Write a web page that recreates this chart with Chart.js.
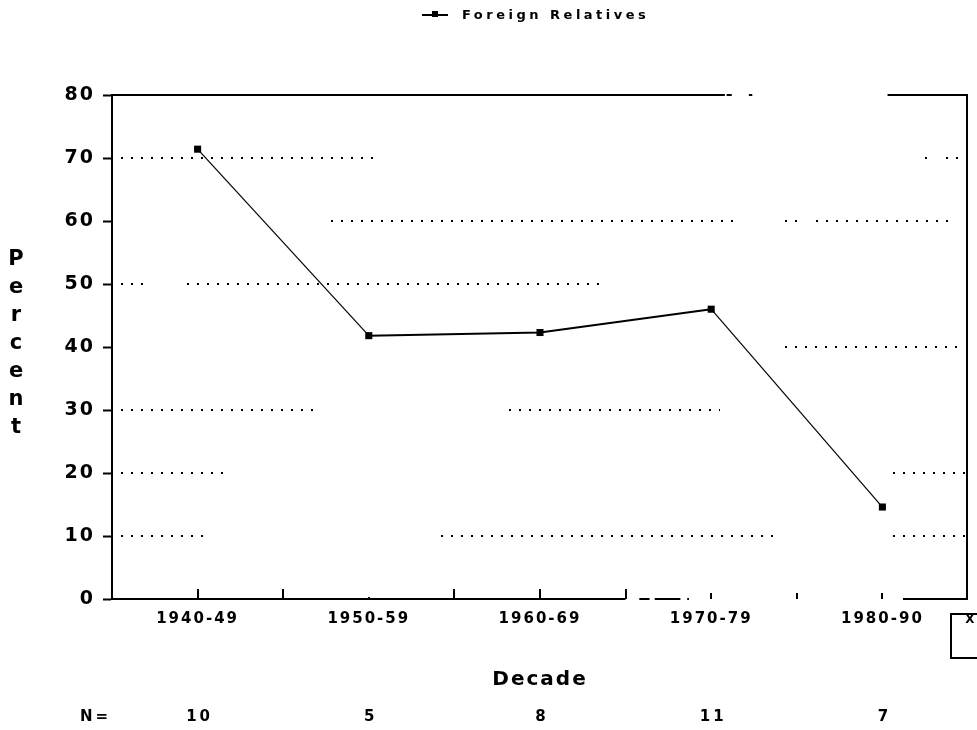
<!DOCTYPE html>
<html>
<head>
<meta charset="utf-8">
<title>Foreign Relatives by Decade</title>
<script src="https://cdn.jsdelivr.net/npm/chart.js@4.4.1/dist/chart.umd.min.js"></script>
<style>
  html, body { margin: 0; padding: 0; background: #ffffff; }
  #wrap { width: 977px; height: 730px; }
</style>
</head>
<body>
<div id="wrap"><canvas id="chart" width="977" height="730"></canvas></div>
<script>
// Decades on the x axis
const decades = ['1940-49', '1950-59', '1960-69', '1970-79', '1980-90'];
// Percent with foreign relatives, per decade
const foreignRelatives = [71.4, 41.8, 42.3, 46.0, 14.6];
// Sample size per decade
const sampleSizes = [10, 5, 8, 11, 7];
// Value axis ticks
const percentTicks = [0, 10, 20, 30, 40, 50, 60, 70, 80];

const seriesLabel = 'Foreign Relatives';
const yTitle = 'Percent';
const xTitle = 'Decade';
const nLabel = 'N=';

// Broken dotted grid runs, in x-axis units (category index)
const gridRuns = {
  70: [[-0.45, 1.06], [4.25, 4.27], [4.37, 4.46]],
  60: [[0.78, 3.14], [3.43, 3.52], [3.61, 4.41]],
  50: [[-0.45, -0.29], [-0.06, 2.35]],
  40: [[3.43, 4.47]],
  30: [[-0.45, 0.70], [1.82, 3.05]],
  20: [[-0.45, 0.16], [4.06, 4.48]],
  10: [[-0.45, 0.04], [1.42, 3.40], [4.06, 4.48]]
};
// Frame runs along the top and bottom edges, in x-axis units
const topRuns = [[-0.5, 3.08], [3.09, 3.12], [3.22, 3.24], [4.03, 4.5]];
const bottomRuns = [[-0.5, 2.50], [2.58, 2.64], [2.67, 2.82], [2.86, 2.87], [4.12, 4.5]];
// Inward tick marks on the x axis (centres and half-steps), lengths in px
const xTickMarks = [[0, 10], [0.5, 10], [1, 2], [1.5, 10], [2, 10], [2.5, 10], [3, 6], [3.5, 6], [4, 6]];

const FONT = '"DejaVu Sans", "Liberation Sans", sans-serif';

const decorPlugin = {
  id: 'decor',
  beforeDraw(chart) {
    chart.ctx.letterSpacing = '2px';
  },
  beforeDatasetsDraw(chart) {
    const ctx = chart.ctx;
    const x = chart.scales.x, y = chart.scales.y;
    const ux = u => x.getPixelForDecimal((u + 0.5) / decades.length);
    ctx.save();
    ctx.letterSpacing = '0px';
    // dotted grid
    ctx.strokeStyle = '#000';
    ctx.lineWidth = 2;
    ctx.setLineDash([2, 8]);
    Object.keys(gridRuns).forEach(v => {
      const py = Math.round(y.getPixelForValue(+v));
      gridRuns[v].forEach(([a, b]) => {
        ctx.beginPath();
        ctx.moveTo(Math.round(ux(a)), py);
        ctx.lineTo(Math.round(ux(b)), py);
        ctx.stroke();
      });
    });
    ctx.setLineDash([]);
    // frame
    ctx.strokeStyle = '#000';
    ctx.lineWidth = 2;
    const top = y.getPixelForValue(80), bot = y.getPixelForValue(0);
    const drawRuns = (runs, py) => runs.forEach(([a, b]) => {
      ctx.beginPath();
      ctx.moveTo(ux(a), py);
      ctx.lineTo(ux(b), py);
      ctx.stroke();
    });
    drawRuns(topRuns, top);
    drawRuns(bottomRuns, bot);
    ctx.beginPath();
    ctx.moveTo(ux(4.5) - 1, top);
    ctx.lineTo(ux(4.5) - 1, bot);
    ctx.stroke();
    // inward x ticks
    xTickMarks.forEach(([u, len]) => {
      const px = Math.round(ux(u));
      ctx.beginPath();
      ctx.moveTo(px, bot);
      ctx.lineTo(px, bot - len);
      ctx.stroke();
    });
    ctx.restore();
  },
  afterDraw(chart) {
    const ctx = chart.ctx;
    const x = chart.scales.x;
    ctx.save();
    ctx.fillStyle = '#000';
    ctx.strokeStyle = '#000';
    // legend
    ctx.lineWidth = 2;
    ctx.beginPath();
    ctx.moveTo(422, 15);
    ctx.lineTo(448, 15);
    ctx.stroke();
    ctx.fillRect(432, 11, 6, 6);
    ctx.font = 'bold 13px ' + FONT;
    ctx.letterSpacing = '3.5px';
    ctx.textBaseline = 'middle';
    ctx.textAlign = 'left';
    ctx.fillText(seriesLabel, 462, 16);
    // stacked y title
    ctx.font = 'bold 21px ' + FONT;
    ctx.letterSpacing = '0px';
    ctx.textAlign = 'center';
    yTitle.split('').forEach((ch, i) => ctx.fillText(ch, 16, 260 + i * 28));
    // sample sizes
    ctx.font = 'bold 15px ' + FONT;
    ctx.letterSpacing = '3px';
    ctx.textAlign = 'left';
    ctx.fillText(nLabel, 80, 717);
    ctx.textAlign = 'center';
    sampleSizes.forEach((n, i) => ctx.fillText(String(n), x.getPixelForValue(i) + 2, 717));
    // small key box at the lower right
    ctx.lineWidth = 2;
    ctx.beginPath();
    ctx.moveTo(990, 614);
    ctx.lineTo(951, 614);
    ctx.lineTo(951, 658);
    ctx.lineTo(990, 658);
    ctx.stroke();
    ctx.font = 'bold 12px ' + FONT;
    ctx.letterSpacing = '0px';
    ctx.fillText('X', 970, 620);
    ctx.restore();
    ctx.letterSpacing = '0px';
  }
};

new Chart(document.getElementById('chart'), {
  type: 'line',
  data: {
    labels: decades,
    datasets: [{
      label: seriesLabel,
      data: foreignRelatives,
      borderColor: '#000',
      backgroundColor: '#000',
      borderWidth: 1.2,
      pointStyle: 'rect',
      pointRadius: 5,
      pointBorderWidth: 0,
      tension: 0,
      segment: {
        borderWidth: c => (c.p0DataIndex === 1 || c.p0DataIndex === 2) ? 2 : 1.2
      }
    }]
  },
  options: {
    responsive: false,
    animation: false,
    devicePixelRatio: 1,
    layout: { padding: { top: 95, right: 9, left: 0, bottom: 0 } },
    plugins: {
      legend: { display: false },
      tooltip: { enabled: false }
    },
    scales: {
      x: {
        type: 'category',
        offset: true,
        grid: { display: false, drawTicks: false },
        border: { display: false },
        ticks: {
          color: '#000',
          padding: 11,
          maxRotation: 0,
          font: { family: FONT, size: 15, weight: 'bold' }
        },
        title: {
          display: true,
          text: xTitle,
          color: '#000',
          font: { family: FONT, size: 20, weight: 'bold' },
          padding: { top: 0, bottom: 38 }
        },
        afterFit: s => { s.height = 131; }
      },
      y: {
        min: 0,
        max: 80,
        afterBuildTicks: s => { s.ticks = percentTicks.map(v => ({ value: v })); },
        grid: {
          drawOnChartArea: false,
          drawTicks: true,
          tickLength: 9,
          tickWidth: 2,
          tickColor: '#000',
          tickBorderDash: []
        },
        border: { display: true, color: '#000', width: 2 },
        ticks: {
          color: '#000',
          padding: 8,
          font: { family: FONT, size: 19, weight: 'bold' }
        },
        afterFit: s => { s.width = 112; }
      }
    }
  },
  plugins: [decorPlugin]
});
</script>
</body>
</html>
